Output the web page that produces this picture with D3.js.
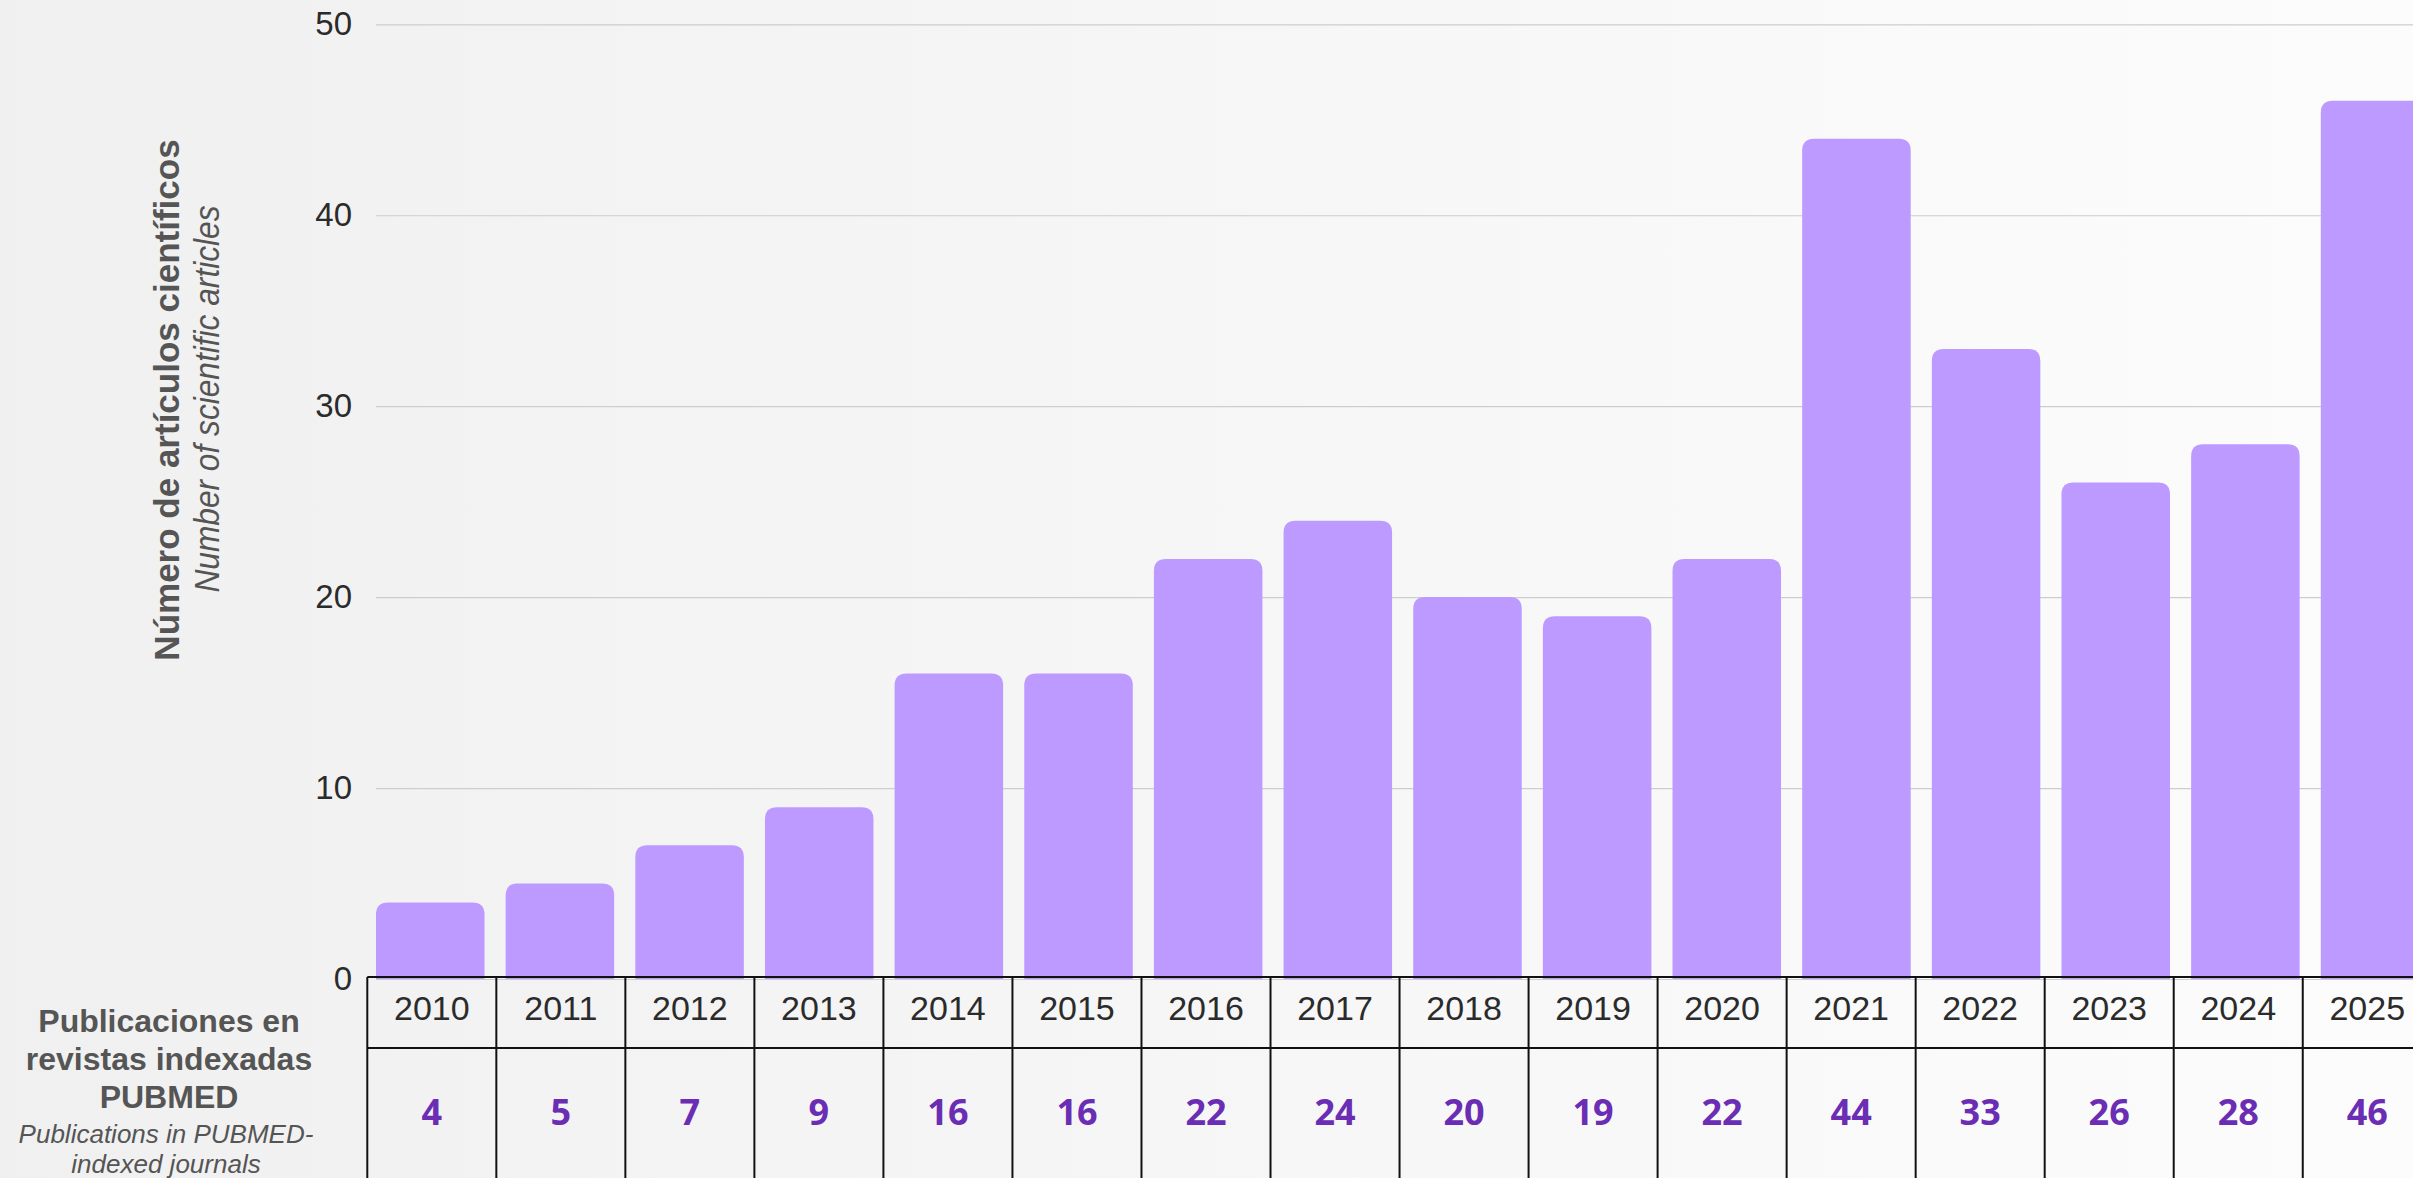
<!DOCTYPE html>
<html>
<head>
<meta charset="utf-8">
<script src="https://cdn.jsdelivr.net/npm/d3@7"></script>
<style>
    html, body { margin: 0; padding: 0; overflow: hidden; }
    svg { display: block; }
</style>
</head>
<body>
<svg id="chart-container" width="2413" height="1178"></svg>
<script>
// data
const years = ["2010", "2011", "2012", "2013", "2014", "2015", "2016", "2017",
    "2018", "2019", "2020", "2021", "2022", "2023", "2024", "2025"];
const counts = [4, 5, 7, 9, 16, 16, 22, 24, 20, 19, 22, 44, 33, 26, 28, 46];
const yTicks = [0, 10, 20, 30, 40, 50];

const yTitle = "Número de artículos científicos";
const yTitleEn = "Number of scientific articles";
const rowTitle = ["Publicaciones en", "revistas indexadas", "PUBMED"];
const rowTitleEn = ["Publications in PUBMED-", "indexed journals"];

const WIDTH = 2413;
const HEIGHT = 1178;
const FONT = "'Liberation Sans', Arial, Helvetica, sans-serif";
const BAR_COLOR = "#bd9aff";
const VALUE_COLOR = "#6a2db3";
const RADIUS = 12;

const svg = d3.select("#chart-container");

// background fades from left to right
const defs = svg.append("defs");
const grad = defs.append("linearGradient")
    .attr("id", "bg-grad")
    .attr("x1", "0%").attr("x2", "100%")
    .attr("y1", "0%").attr("y2", "0%");
grad.append("stop").attr("offset", "0%").attr("stop-color", "#f0f0f0");
grad.append("stop").attr("offset", "100%").attr("stop-color", "#fcfcfc");

svg.append("rect")
    .attr("width", WIDTH)
    .attr("height", HEIGHT)
    .attr("fill", "url(#bg-grad)");

// scales (bars run past the right edge, like the original)
const x = d3.scaleBand()
    .domain(years)
    .range([376, 2429.3])
    .paddingInner(0.163)
    .paddingOuter(0);

const y = d3.scaleLinear()
    .domain([0, 50])
    .range([979, 24.3]);

const tableX = d3.scaleBand()
    .domain(years)
    .range([367.3, 367.3 + 129.03 * years.length]);

// gridlines + tick labels
const yAxis = svg.append("g")
    .attr("transform", "translate(376,0)")
    .call(d3.axisLeft(y)
        .tickValues(yTicks)
        .tickSize(-(WIDTH - 376))
        .tickPadding(24));

yAxis.select(".domain").remove();
yAxis.selectAll(".tick line")
    .style("stroke", "#cdcdcd")
    .style("stroke-width", 1.2);
yAxis.selectAll(".tick text")
    .style("font-family", FONT)
    .style("font-size", "33px")
    .style("fill", "#2b2b2b");

// bars with rounded top corners
function barPath(d, i) {
    const x0 = x(years[i]);
    const w = x.bandwidth();
    const top = y(d);
    const bottom = y(0);
    const r = Math.min(RADIUS, (bottom - top) / 2);
    return `M${x0},${bottom}
        V${top + r}
        Q${x0},${top} ${x0 + r},${top}
        H${x0 + w - r}
        Q${x0 + w},${top} ${x0 + w},${top + r}
        V${bottom} Z`;
}

svg.append("g")
    .selectAll("path")
    .data(counts)
    .join("path")
    .attr("d", barPath)
    .style("fill", BAR_COLOR);

// y axis title (two lines, rotated)
svg.append("text")
    .attr("transform", "translate(179,400) rotate(-90)")
    .attr("text-anchor", "middle")
    .style("font-family", FONT)
    .style("font-weight", "bold")
    .style("font-size", "35px")
    .style("fill", "#555")
    .text(yTitle);

// the english line is a narrow italic in the original
svg.append("text")
    .attr("transform", "translate(219,399) rotate(-90)")
    .attr("text-anchor", "middle")
    .attr("textLength", 387)
    .attr("lengthAdjust", "spacingAndGlyphs")
    .style("font-family", FONT)
    .style("font-style", "italic")
    .style("font-size", "35px")
    .style("fill", "#555")
    .text(yTitleEn);

// table under the chart
const TABLE_TOP = 977;
const TABLE_MID = 1048;
const TABLE_BOTTOM = HEIGHT + 10;
const table = svg.append("g");

table.selectAll(".col-line")
    .data(years.concat(["end"]))
    .join("line")
    .attr("class", "col-line")
    .attr("x1", (d, i) => tableX.range()[0] + i * tableX.step())
    .attr("x2", (d, i) => tableX.range()[0] + i * tableX.step())
    .attr("y1", TABLE_TOP)
    .attr("y2", TABLE_BOTTOM)
    .style("stroke", "#111")
    .style("stroke-width", 2);

table.selectAll(".row-line")
    .data([TABLE_TOP, TABLE_MID])
    .join("line")
    .attr("class", "row-line")
    .attr("x1", tableX.range()[0])
    .attr("x2", tableX.range()[1])
    .attr("y1", d => d)
    .attr("y2", d => d)
    .style("stroke", "#111")
    .style("stroke-width", 2);

table.selectAll(".year-label")
    .data(years)
    .join("text")
    .attr("class", "year-label")
    .attr("x", d => tableX(d) + tableX.bandwidth() / 2)
    .attr("y", 1019.5)
    .attr("text-anchor", "middle")
    .style("font-family", FONT)
    .style("font-size", "34px")
    .style("fill", "#2b2b2b")
    .text(d => d);

table.selectAll(".value-label")
    .data(counts)
    .join("text")
    .attr("class", "value-label")
    .attr("x", (d, i) => tableX(years[i]) + tableX.bandwidth() / 2)
    .attr("y", 1125)
    .attr("text-anchor", "middle")
    .style("font-family", "'Open Sans', 'Noto Sans', sans-serif")
    .style("font-weight", "bold")
    .style("font-size", "36px")
    .style("fill", VALUE_COLOR)
    .text(d => d);

// row title at the left of the table
svg.append("g")
    .selectAll("text")
    .data(rowTitle)
    .join("text")
    .attr("x", 169)
    .attr("y", (d, i) => 1031.7 + i * 38)
    .attr("text-anchor", "middle")
    .style("font-family", FONT)
    .style("font-weight", "bold")
    .style("font-size", "32px")
    .style("fill", "#555")
    .text(d => d);

svg.append("g")
    .selectAll("text")
    .data(rowTitleEn)
    .join("text")
    .attr("x", 166)
    .attr("y", (d, i) => 1143.3 + i * 30)
    .attr("text-anchor", "middle")
    .style("font-family", FONT)
    .style("font-style", "italic")
    .style("font-size", "26px")
    .style("fill", "#555")
    .text(d => d);
</script>
</body>
</html>
